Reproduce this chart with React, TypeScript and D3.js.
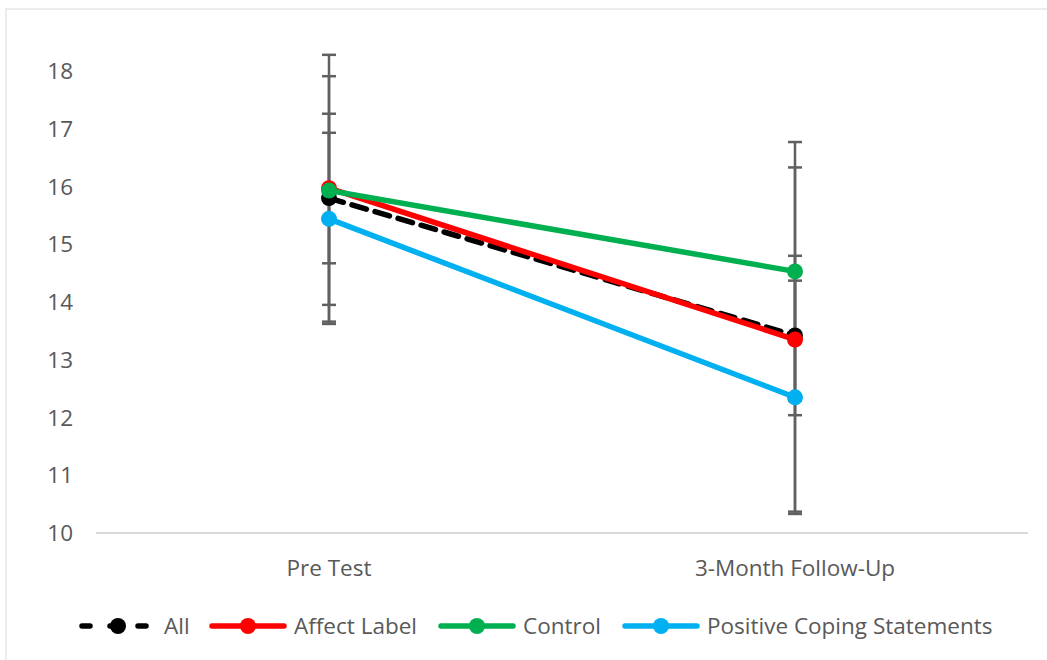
import React, { useRef, useEffect } from "react";
import * as d3 from "d3";

const categories = ["Pre Test", "3-Month Follow-Up"];
const seriesNames = ["All", "Affect Label", "Control", "Positive Coping Statements"];
const seriesColors = ["#000000", "#ff0000", "#00b050", "#00b0f0"];

// means per series, per category
const allValues = [15.8, 13.42];
const affectValues = [15.97, 13.35];
const controlValues = [15.93, 14.53];
const positiveValues = [15.44, 12.35];

// error bar half-widths (plus / minus)
const allErrors = [1.13, 1.38];
const affectErrors = [2.31, 2.98];
const controlErrors = [1.98, 2.24];
const positiveErrors = [1.82, 2.02];

const yTicks = [10, 11, 12, 13, 14, 15, 16, 17, 18];

const App = () => {
    const ref = useRef<SVGSVGElement | null>(null);

    useEffect(() => {
        const width = 1047;
        const height = 660;
        const plot = { left: 96, right: 1028, top: 71, bottom: 533 };
        const font = "'Open Sans', 'Noto Sans', sans-serif";
        const fontSize = 22.5;
        const textColor = "#595959";

        const svg = d3.select(ref.current);
        svg.selectAll("*").remove();

        const series = [
            { name: seriesNames[0], values: allValues, errors: allErrors, color: seriesColors[0], dash: "15,9" },
            { name: seriesNames[1], values: affectValues, errors: affectErrors, color: seriesColors[1], dash: null },
            { name: seriesNames[2], values: controlValues, errors: controlErrors, color: seriesColors[2], dash: null },
            { name: seriesNames[3], values: positiveValues, errors: positiveErrors, color: seriesColors[3], dash: null },
        ];

        const x = d3
            .scaleBand()
            .domain(categories)
            .range([plot.left, plot.right]);
        const cx = (c: string) => x(c)! + x.bandwidth() / 2;
        const y = d3.scaleLinear().domain([10, 18]).range([plot.bottom, plot.top]);

        // frame edges
        svg.append("line")
            .attr("x1", 5).attr("x2", width).attr("y1", 9).attr("y2", 9)
            .attr("stroke", "#ececec").attr("stroke-width", 2);
        svg.append("line")
            .attr("x1", 6).attr("x2", 6).attr("y1", 8).attr("y2", height)
            .attr("stroke", "#ececec").attr("stroke-width", 2);

        // y labels
        svg.append("g")
            .selectAll("text")
            .data(yTicks)
            .join("text")
            .attr("x", 73)
            .attr("y", (d) => y(d))
            .attr("dy", "0.36em")
            .attr("text-anchor", "end")
            .attr("font-family", font)
            .attr("font-size", fontSize)
            .attr("fill", textColor)
            .text((d) => d);

        // x axis line
        svg.append("line")
            .attr("x1", plot.left).attr("x2", plot.right)
            .attr("y1", y(10)).attr("y2", y(10))
            .attr("stroke", "#d9d9d9").attr("stroke-width", 2);

        svg.append("g")
            .selectAll("text")
            .data(categories)
            .join("text")
            .attr("x", (d) => cx(d))
            .attr("y", 576)
            .attr("text-anchor", "middle")
            .attr("font-family", font)
            .attr("font-size", fontSize)
            .attr("fill", textColor)
            .text((d) => d);

        // error bars
        const eb = svg.append("g").attr("stroke", "#606060").attr("stroke-width", 2.5);
        series.forEach((s) => {
            categories.forEach((c, i) => {
                const hi = y(s.values[i] + s.errors[i]);
                const lo = y(s.values[i] - s.errors[i]);
                eb.append("line").attr("x1", cx(c)).attr("x2", cx(c)).attr("y1", hi).attr("y2", lo);
                eb.append("line").attr("x1", cx(c) - 7).attr("x2", cx(c) + 7).attr("y1", hi).attr("y2", hi);
                eb.append("line").attr("x1", cx(c) - 7).attr("x2", cx(c) + 7).attr("y1", lo).attr("y2", lo);
            });
        });

        // lines + markers
        const line = d3
            .line<number>()
            .x((_, i) => cx(categories[i]))
            .y((d) => y(d));

        series.forEach((s) => {
            const g = svg.append("g");
            g.append("path")
                .attr("d", line(s.values))
                .attr("fill", "none")
                .attr("stroke", s.color)
                .attr("stroke-width", 5.5)
                .attr("stroke-linecap", "round")
                .attr("stroke-dasharray", s.dash);
            g.selectAll("circle")
                .data(s.values)
                .join("circle")
                .attr("cx", (_, i) => cx(categories[i]))
                .attr("cy", (d) => y(d))
                .attr("r", 8)
                .attr("fill", s.color);
        });

        // legend
        const legendX = [79, 209, 438, 622];
        const legendY = 626;
        const leg = svg.append("g");
        series.forEach((s, i) => {
            const x0 = legendX[i];
            const item = leg.append("g");
            item.append("line")
                .attr("x1", x0 + 3).attr("x2", x0 + 75)
                .attr("y1", legendY).attr("y2", legendY)
                .attr("stroke", s.color)
                .attr("stroke-width", 5.5)
                .attr("stroke-linecap", "round")
                .attr("stroke-dasharray", s.dash ? "8,20" : null);
            item.append("circle")
                .attr("cx", x0 + 39).attr("cy", legendY).attr("r", 8)
                .attr("fill", s.color);
            item.append("text")
                .attr("x", x0 + 85)
                .attr("y", legendY)
                .attr("dy", "0.36em")
                .attr("font-family", font)
                .attr("font-size", fontSize)
                .attr("fill", textColor)
                .text(s.name);
        });
    }, []);

    return (
        <div style={{ position: "absolute", left: 0, top: 0, width: 1047, height: 660, background: "#fff" }}>
            <svg ref={ref} width={1047} height={660} style={{ display: "block" }} />
        </div>
    );
};

export default App;
